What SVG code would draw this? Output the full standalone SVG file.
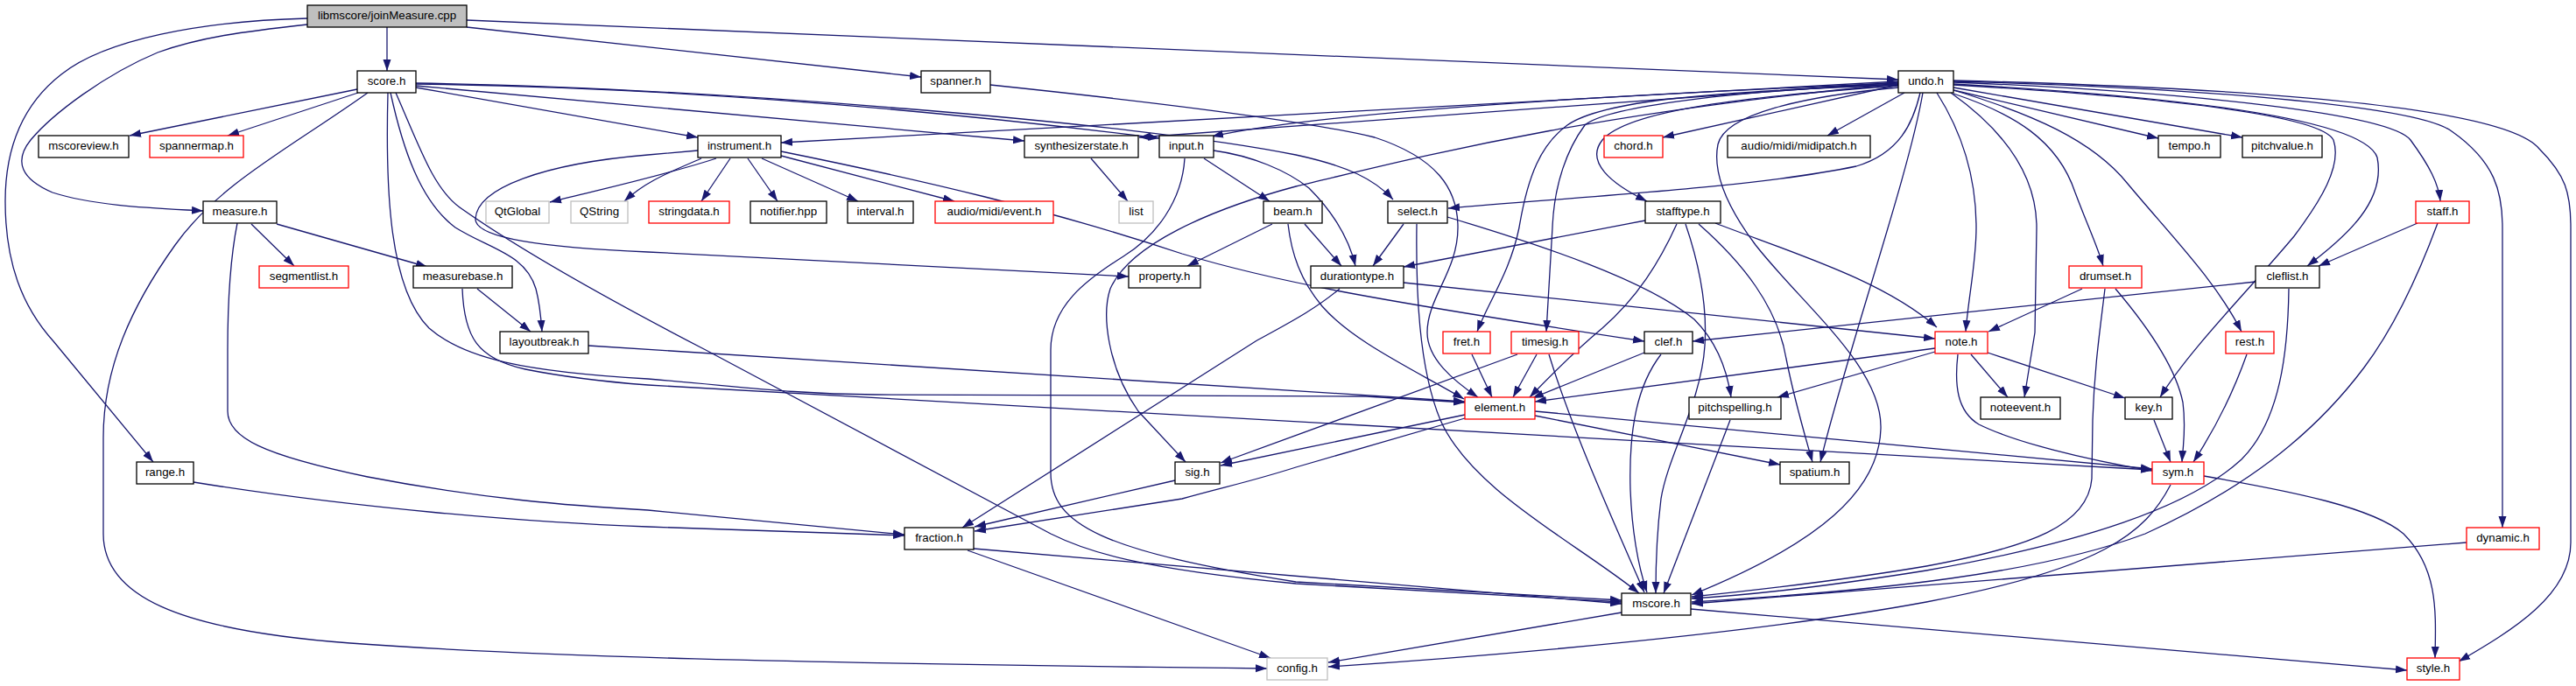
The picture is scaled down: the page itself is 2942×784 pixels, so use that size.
<svg xmlns="http://www.w3.org/2000/svg" width="2942" height="784" viewBox="0 0 2942 784">
<style>
.e{fill:none;stroke:#191970;stroke-width:1.3;marker-end:url(#a)}
rect{fill:#fff;stroke:#000;stroke-width:1.3}
rect.r{stroke:#f00}
rect.g{stroke:#bfbfbf}
rect.root{fill:#bfbfbf}
text{font-family:"Liberation Sans",Arial,sans-serif;font-size:13.3px;text-anchor:middle;fill:#000}
</style>
<defs>
<marker id="a" markerUnits="userSpaceOnUse" markerWidth="14" markerHeight="10" viewBox="0 0 14 10" refX="13" refY="5" orient="auto"><path d="M0,0.5 L13,5 L0,9.5 z" fill="#191970"/></marker>
</defs>
<rect x="0" y="0" width="2942" height="784" style="fill:#fff;stroke:none"/>
<g id="edges">
<path class="e" d="M442,31 L442,81"/>
<path class="e" d="M351,28 C280,36 230,42 180,60 C120,85 60,130 35,160 C15,185 25,205 60,220 C110,236 180,238 232,241"/>
<path class="e" d="M351,21 C230,24 120,45 70,85 C25,120 6,170 6,230 C6,300 25,350 61,390 L175,528"/>
<path class="e" d="M533,31 L1052,88"/>
<path class="e" d="M533,23 L2168,91"/>
<path class="e" d="M408,102 L148,155"/>
<path class="e" d="M409,106 L260,155"/>
<path class="e" d="M475,100 L797,157"/>
<path class="e" d="M475,98 L1170,161"/>
<path class="e" d="M475,96 C800,100 1100,130 1324,158"/>
<path class="e" d="M475,95 C800,100 1300,140 1480,177 C1540,190 1570,205 1591,228"/>
<path class="e" d="M446,106 C460,170 480,230 520,260 C560,285 600,290 612,330 C616,345 618,365 619,379"/>
<path class="e" d="M443,106 C440,220 445,330 490,375 C530,410 600,425 740,433 C850,442 900,450 1000,451 L1560,453 L1673,460"/>
<path class="e" d="M528,330 C530,385 545,410 600,422 C650,432 700,437 740,440 L2458,537"/>
<path class="e" d="M420,106 C330,170 250,210 200,280 C150,350 118,420 118,500 L118,610 C118,680 200,720 400,735 C600,750 900,758 1447,764"/>
<path class="e" d="M452,106 C480,170 495,215 525,237 C600,290 700,345 806,400 L1200,610 C1240,630 1300,650 1480,667 L1852,688"/>
<path class="e" d="M287,256 L336,304"/>
<path class="e" d="M316,256 L488,305"/>
<path class="e" d="M271,255 C262,300 260,350 260,400 L260,470 C260,500 300,520 420,545 C550,570 650,578 740,583 L1033,611"/>
<path class="e" d="M221,551 C400,580 600,597 740,602 L1033,612"/>
<path class="e" d="M545,330 L606,379"/>
<path class="e" d="M672,395 L1673,459"/>
<path class="e" d="M1131,97 C1350,120 1500,140 1570,157 C1640,180 1665,215 1665,260 C1665,310 1630,340 1630,380 C1630,410 1660,435 1688,454"/>
<path class="e" d="M2168,93 L892,163"/>
<path class="e" d="M2168,94 L1301,157"/>
<path class="e" d="M2168,95 C1800,110 1500,130 1384,156"/>
<path class="e" d="M2168,97 L1899,157"/>
<path class="e" d="M2175,106 L2087,155"/>
<path class="e" d="M2193,106 C2185,140 2170,175 2120,190 C2000,215 1800,225 1654,238"/>
<path class="e" d="M2168,98 C2000,110 1860,125 1830,160 C1810,185 1840,210 1881,230"/>
<path class="e" d="M2168,97 C1950,105 1830,115 1790,143 C1760,165 1745,200 1735,260 C1725,310 1700,345 1687,379"/>
<path class="e" d="M2168,96 C1950,105 1830,125 1810,143 C1790,170 1775,210 1773,260 L1766,379"/>
<path class="e" d="M2168,96 C1800,130 1600,185 1480,213 C1380,240 1290,280 1268,330 C1258,360 1265,420 1300,470 L1354,528"/>
<path class="e" d="M1353,181 C1350,230 1320,270 1283,293 C1240,320 1200,350 1200,400 L1200,540 C1200,600 1260,630 1480,665 L1852,686"/>
<path class="e" d="M2196,106 C2180,200 2110,400 2079,528"/>
<path class="e" d="M2168,100 C2060,110 1970,130 1962,165 C1955,200 1975,240 2005,280 C2060,350 2150,420 2148,490 C2146,560 2080,620 1932,680"/>
<path class="e" d="M2212,106 C2240,150 2257,200 2257,260 C2257,300 2248,340 2245,379"/>
<path class="e" d="M2228,106 C2290,150 2326,200 2326,260 L2324,380 L2312,454"/>
<path class="e" d="M2231,107 C2300,130 2350,160 2370,220 C2385,260 2395,280 2402,304"/>
<path class="e" d="M2231,103 C2320,130 2390,160 2430,210 C2480,270 2530,320 2560,379"/>
<path class="e" d="M2231,103 L2465,158"/>
<path class="e" d="M2231,100 L2561,157"/>
<path class="e" d="M2231,97 C2450,110 2650,130 2665,160 C2675,190 2650,230 2620,270 C2570,330 2500,400 2467,454"/>
<path class="e" d="M2231,96 C2480,110 2700,135 2715,180 C2725,230 2680,270 2635,304"/>
<path class="e" d="M2231,94 C2500,105 2730,130 2753,160 C2775,190 2785,210 2787,230"/>
<path class="e" d="M2231,93 C2500,100 2760,120 2800,150 C2850,185 2858,220 2858,260 L2858,603"/>
<path class="e" d="M2231,92 C2550,100 2860,120 2900,170 C2930,200 2936,220 2936,260 L2936,620 C2936,680 2870,720 2808,756"/>
<path class="e" d="M2761,255 L2648,304"/>
<path class="e" d="M2784,255 C2760,320 2730,380 2700,420 C2640,500 2560,560 2450,610 C2330,655 2150,675 1932,688"/>
<path class="e" d="M2614,330 C2613,400 2605,480 2560,525 C2500,580 2380,620 2200,652 C2100,668 2000,680 1932,684"/>
<path class="e" d="M2404,330 C2398,380 2392,420 2390,480 L2389,547 C2385,600 2320,625 2200,647 C2100,664 2000,675 1932,682"/>
<path class="e" d="M2817,620 L1932,690"/>
<path class="e" d="M2479,554 C2450,610 2400,650 2200,688 C2000,725 1700,750 1517,762"/>
<path class="e" d="M1852,700 L1517,757"/>
<path class="e" d="M1931,696 L2749,766"/>
<path class="e" d="M2517,544 C2620,562 2710,580 2745,610 C2785,650 2782,700 2781,752"/>
<path class="e" d="M1112,627 L1852,690"/>
<path class="e" d="M1105,629 L1451,752"/>
<path class="e" d="M1342,549 L1113,602"/>
<path class="e" d="M1673,478 L1480,534 C1430,550 1400,556 1350,570 L1113,607"/>
<path class="e" d="M1673,474 L1394,532"/>
<path class="e" d="M1733,405 L1394,529"/>
<path class="e" d="M1755,405 L1728,454"/>
<path class="e" d="M1769,405 C1795,490 1840,590 1878,677"/>
<path class="e" d="M1681,405 L1704,454"/>
<path class="e" d="M1878,403 L1750,455"/>
<path class="e" d="M1897,405 C1870,440 1860,490 1862,560 C1864,610 1872,650 1881,677"/>
<path class="e" d="M1976,480 L1900,678"/>
<path class="e" d="M1879,252 L1603,305"/>
<path class="e" d="M1915,256 C1895,300 1870,340 1830,375 C1800,400 1770,430 1747,454"/>
<path class="e" d="M1925,256 C1940,300 1950,350 1947,395 C1943,460 1905,520 1897,570 C1892,610 1891,650 1891,678"/>
<path class="e" d="M1940,256 C1990,300 2030,350 2040,410 C2050,460 2062,500 2070,528"/>
<path class="e" d="M1959,255 C2050,290 2150,320 2212,374"/>
<path class="e" d="M1603,323 L2210,387"/>
<path class="e" d="M1530,330 C1500,355 1470,370 1434,390 L1099,603"/>
<path class="e" d="M1603,256 L1568,304"/>
<path class="e" d="M1386,172 C1430,178 1470,195 1495,215 C1520,240 1540,270 1548,304"/>
<path class="e" d="M1490,256 L1532,304"/>
<path class="e" d="M1375,181 L1450,230"/>
<path class="e" d="M1453,256 L1356,304"/>
<path class="e" d="M1471,256 C1475,290 1485,320 1510,350 C1545,390 1610,420 1672,456"/>
<path class="e" d="M1618,256 C1617,330 1620,420 1645,480 C1680,560 1800,620 1872,678"/>
<path class="e" d="M1653,248 C1760,280 1880,320 1935,365 C1960,390 1972,420 1977,454"/>
<path class="e" d="M2210,398 L1753,459"/>
<path class="e" d="M2210,402 L2030,454"/>
<path class="e" d="M2251,405 L2293,454"/>
<path class="e" d="M2270,403 L2427,455"/>
<path class="e" d="M2236,405 C2232,440 2235,470 2260,485 C2300,505 2380,525 2458,538"/>
<path class="e" d="M2378,330 L2271,379"/>
<path class="e" d="M2416,330 C2450,370 2485,420 2493,460 C2497,490 2493,510 2492,528"/>
<path class="e" d="M2460,480 L2479,528"/>
<path class="e" d="M2566,405 C2550,450 2530,490 2505,528"/>
<path class="e" d="M2576,322 L1933,390"/>
<path class="e" d="M892,173 C1050,205 1200,240 1350,290 C1450,320 1550,340 1878,390"/>
<path class="e" d="M797,172 L740,177 C620,187 545,215 543,250 C542,272 620,283 740,288 L1289,316"/>
<path class="e" d="M818,181 C760,200 700,213 628,231"/>
<path class="e" d="M801,181 C770,195 740,205 713,230"/>
<path class="e" d="M834,181 L801,230"/>
<path class="e" d="M854,181 L888,230"/>
<path class="e" d="M870,181 L980,230"/>
<path class="e" d="M892,178 L1090,230"/>
<path class="e" d="M1246,181 L1288,230"/>
<path class="e" d="M1753,475 L2033,531"/>
<path class="e" d="M1753,470 L2458,536"/>
</g>
<g id="n_join"><rect class="root" x="351" y="6" width="182" height="25"/><text x="442" y="22">libmscore/joinMeasure.cpp</text></g>
<g id="n_score"><rect x="408" y="81" width="67" height="25"/><text x="441.5" y="97">score.h</text></g>
<g id="n_spanner"><rect x="1052" y="81" width="79" height="25"/><text x="1091.5" y="97">spanner.h</text></g>
<g id="n_undo"><rect x="2168" y="81" width="63" height="25"/><text x="2199.5" y="97">undo.h</text></g>
<g id="n_mscoreview"><rect x="44" y="155" width="103" height="25"/><text x="95.5" y="171">mscoreview.h</text></g>
<g id="n_spannermap"><rect class="r" x="171" y="155" width="107" height="25"/><text x="224.5" y="171">spannermap.h</text></g>
<g id="n_instrument"><rect x="797" y="155" width="95" height="25"/><text x="844.5" y="171">instrument.h</text></g>
<g id="n_synth"><rect x="1170" y="155" width="130" height="25"/><text x="1235" y="171">synthesizerstate.h</text></g>
<g id="n_input"><rect x="1324" y="155" width="62" height="25"/><text x="1355" y="171">input.h</text></g>
<g id="n_chord"><rect class="r" x="1832" y="155" width="67" height="25"/><text x="1865.5" y="171">chord.h</text></g>
<g id="n_midipatch"><rect x="1973" y="155" width="163" height="25"/><text x="2054.5" y="171">audio/midi/midipatch.h</text></g>
<g id="n_tempo"><rect x="2465" y="155" width="71" height="25"/><text x="2500.5" y="171">tempo.h</text></g>
<g id="n_pitchvalue"><rect x="2561" y="155" width="91" height="25"/><text x="2606.5" y="171">pitchvalue.h</text></g>
<g id="n_measure"><rect x="232" y="230" width="84" height="25"/><text x="274" y="246">measure.h</text></g>
<g id="n_qtglobal"><rect class="g" x="555" y="230" width="72" height="25"/><text x="591" y="246">QtGlobal</text></g>
<g id="n_qstring"><rect class="g" x="652" y="230" width="65" height="25"/><text x="684.5" y="246">QString</text></g>
<g id="n_stringdata"><rect class="r" x="741" y="230" width="92" height="25"/><text x="787" y="246">stringdata.h</text></g>
<g id="n_notifier"><rect x="857" y="230" width="87" height="25"/><text x="900.5" y="246">notifier.hpp</text></g>
<g id="n_interval"><rect x="968" y="230" width="75" height="25"/><text x="1005.5" y="246">interval.h</text></g>
<g id="n_event"><rect class="r" x="1068" y="230" width="135" height="25"/><text x="1135.5" y="246">audio/midi/event.h</text></g>
<g id="n_list"><rect class="g" x="1278" y="230" width="39" height="25"/><text x="1297.5" y="246">list</text></g>
<g id="n_beam"><rect x="1443" y="230" width="67" height="25"/><text x="1476.5" y="246">beam.h</text></g>
<g id="n_select"><rect x="1585" y="230" width="68" height="25"/><text x="1619" y="246">select.h</text></g>
<g id="n_stafftype"><rect x="1879" y="230" width="86" height="25"/><text x="1922" y="246">stafftype.h</text></g>
<g id="n_staff"><rect class="r" x="2759" y="230" width="61" height="25"/><text x="2789.5" y="246">staff.h</text></g>
<g id="n_segmentlist"><rect class="r" x="296" y="304" width="102" height="25"/><text x="347" y="320">segmentlist.h</text></g>
<g id="n_measurebase"><rect x="472" y="304" width="113" height="25"/><text x="528.5" y="320">measurebase.h</text></g>
<g id="n_property"><rect x="1289" y="304" width="82" height="25"/><text x="1330" y="320">property.h</text></g>
<g id="n_durationtype"><rect x="1497" y="304" width="106" height="25"/><text x="1550" y="320">durationtype.h</text></g>
<g id="n_drumset"><rect class="r" x="2363" y="304" width="83" height="25"/><text x="2404.5" y="320">drumset.h</text></g>
<g id="n_cleflist"><rect x="2576" y="304" width="73" height="25"/><text x="2612.5" y="320">cleflist.h</text></g>
<g id="n_layoutbreak"><rect x="571" y="379" width="101" height="25"/><text x="621.5" y="395">layoutbreak.h</text></g>
<g id="n_fret"><rect class="r" x="1648" y="379" width="54" height="25"/><text x="1675" y="395">fret.h</text></g>
<g id="n_timesig"><rect class="r" x="1726" y="379" width="77" height="25"/><text x="1764.5" y="395">timesig.h</text></g>
<g id="n_clef"><rect x="1878" y="379" width="55" height="25"/><text x="1905.5" y="395">clef.h</text></g>
<g id="n_note"><rect class="r" x="2210" y="379" width="60" height="25"/><text x="2240" y="395">note.h</text></g>
<g id="n_rest"><rect class="r" x="2542" y="379" width="55" height="25"/><text x="2569.5" y="395">rest.h</text></g>
<g id="n_element"><rect class="r" x="1673" y="454" width="80" height="25"/><text x="1713" y="470">element.h</text></g>
<g id="n_pitchspelling"><rect x="1929" y="454" width="105" height="25"/><text x="1981.5" y="470">pitchspelling.h</text></g>
<g id="n_noteevent"><rect x="2262" y="454" width="91" height="25"/><text x="2307.5" y="470">noteevent.h</text></g>
<g id="n_key"><rect x="2427" y="454" width="54" height="25"/><text x="2454" y="470">key.h</text></g>
<g id="n_range"><rect x="156" y="528" width="65" height="25"/><text x="188.5" y="544">range.h</text></g>
<g id="n_sig"><rect x="1342" y="528" width="51" height="25"/><text x="1367.5" y="544">sig.h</text></g>
<g id="n_spatium"><rect x="2033" y="528" width="79" height="25"/><text x="2072.5" y="544">spatium.h</text></g>
<g id="n_sym"><rect class="r" x="2458" y="528" width="59" height="25"/><text x="2487.5" y="544">sym.h</text></g>
<g id="n_fraction"><rect x="1033" y="603" width="79" height="25"/><text x="1072.5" y="619">fraction.h</text></g>
<g id="n_dynamic"><rect class="r" x="2817" y="603" width="83" height="25"/><text x="2858.5" y="619">dynamic.h</text></g>
<g id="n_mscore"><rect x="1852" y="678" width="79" height="25"/><text x="1891.5" y="694">mscore.h</text></g>
<g id="n_config"><rect class="g" x="1447" y="752" width="69" height="25"/><text x="1481.5" y="768">config.h</text></g>
<g id="n_style"><rect class="r" x="2749" y="752" width="60" height="25"/><text x="2779" y="768">style.h</text></g>
</svg>
